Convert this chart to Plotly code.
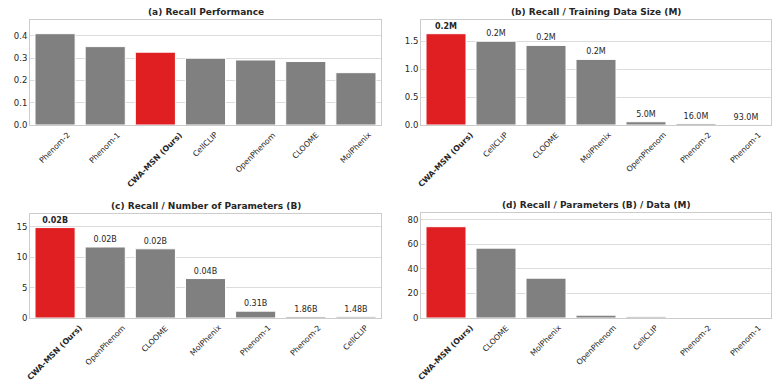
import plotly.graph_objects as go

# ---- data ----
a_models = ["Phenom-2", "Phenom-1", "CWA-MSN (Ours)", "CellCLIP", "OpenPhenom", "CLOOME", "MolPhenix"]
a_values = [0.410, 0.352, 0.327, 0.300, 0.292, 0.285, 0.235]

b_models = ["CWA-MSN (Ours)", "CellCLIP", "CLOOME", "MolPhenix", "OpenPhenom", "Phenom-2", "Phenom-1"]
b_values = [1.635, 1.50, 1.425, 1.175, 0.058, 0.026, 0.004]
b_labels = ["0.2M", "0.2M", "0.2M", "0.2M", "5.0M", "16.0M", "93.0M"]

c_models = ["CWA-MSN (Ours)", "OpenPhenom", "CLOOME", "MolPhenix", "Phenom-1", "Phenom-2", "CellCLIP"]
c_values = [14.9, 11.7, 11.4, 6.5, 1.13, 0.22, 0.20]
c_labels = ["0.02B", "0.02B", "0.02B", "0.04B", "0.31B", "1.86B", "1.48B"]

d_models = ["CWA-MSN (Ours)", "CLOOME", "MolPhenix", "OpenPhenom", "CellCLIP", "Phenom-2", "Phenom-1"]
d_values = [74.5, 57.0, 32.5, 2.3, 1.0, 0.014, 0.012]

titles = ["(a) Recall Performance", "(b) Recall / Training Data Size (M)",
          "(c) Recall / Number of Parameters (B)", "(d) Recall / Parameters (B) / Data (M)"]
ours = "CWA-MSN (Ours)"

W, H = 777, 383
RED = "#e01f22"
GRAY = "#808080"
GRID = "#dcdcdc"
FONT = "DejaVu Sans"
TXT = "#262626"

# plot-area boxes in pixels: (left, right, top, bottom)
boxes = [(30, 381, 20, 125), (421, 771, 20, 125), (30, 381, 214, 318), (421, 771, 213, 318)]
panels = [
    (a_models, a_values, None, [0, 0.1, 0.2, 0.3, 0.4], ".1f"),
    (b_models, b_values, b_labels, [0, 0.5, 1.0, 1.5], ".1f"),
    (c_models, c_values, c_labels, [0, 5, 10, 15], "d"),
    (d_models, d_values, None, [0, 20, 40, 60, 80], "d"),
]

fig = go.Figure()
for i, ((models, vals, labels, yt, fmt), (l, r, t, b), title) in enumerate(zip(panels, boxes, titles)):
    n = i + 1
    xa = "x" if n == 1 else f"x{n}"
    ya = "y" if n == 1 else f"y{n}"
    colors = [RED if m == ours else GRAY for m in models]
    text = None
    if labels is not None:
        text = [f"<b>{lab}</b>" if m == ours else lab for m, lab in zip(models, labels)]
    fig.add_trace(go.Bar(
        x=list(range(len(models))), y=vals, marker=dict(color=colors, line=dict(color="white", width=1)),
        width=0.8, xaxis=xa, yaxis=ya, showlegend=False,
        text=text, textposition="outside", constraintext="none", cliponaxis=False,
        textfont=dict(family=FONT, size=8, color=TXT),
    ))
    ymax = max(vals) * 1.15
    xkey = "xaxis" if n == 1 else f"xaxis{n}"
    ykey = "yaxis" if n == 1 else f"yaxis{n}"
    fig.update_layout(**{
        xkey: dict(domain=[l / W, r / W], anchor=ya, range=[-0.5, len(models) - 0.5],
                   tickvals=list(range(len(models))), showticklabels=False, showgrid=False,
                   showline=True, mirror=True, linecolor="#cccccc", linewidth=1,
                   ticks="", zeroline=False, automargin=False),
        ykey: dict(domain=[1 - b / H, 1 - t / H], anchor=xa, range=[0, ymax],
                   tickvals=yt, tickformat=fmt,
                   tickfont=dict(family=FONT, size=8.5, color=TXT), showgrid=True,
                   gridcolor=GRID, gridwidth=1, showline=True, mirror=True,
                   linecolor="#cccccc", linewidth=1, ticks="", zeroline=False,
                   automargin=False),
    })
    # category labels: rotated 45 deg, centred under each bar (matplotlib style)
    for k, m in enumerate(models):
        fig.add_annotation(text=f"<b>{m}</b>" if m == ours else m, x=k, xref=xa,
                           y=0, yref=f"{ya} domain", xanchor="center", yanchor="top",
                           textangle=-45, yshift=-4, showarrow=False, borderpad=0,
                           font=dict(family=FONT, size=7.8, color=TXT))
    fig.add_annotation(text=f"<b>{title}</b>", x=(l + r) / 2 / W, y=1 - (t - 8) / H,
                       xref="paper", yref="paper", showarrow=False,
                       xanchor="center", yanchor="middle",
                       font=dict(family=FONT, size=9, color=TXT))

fig.update_layout(width=W, height=H, margin=dict(l=0, r=0, t=0, b=0, autoexpand=False),
                  paper_bgcolor="white", plot_bgcolor="white", bargap=0.2)
fig.write_html("out.html")
